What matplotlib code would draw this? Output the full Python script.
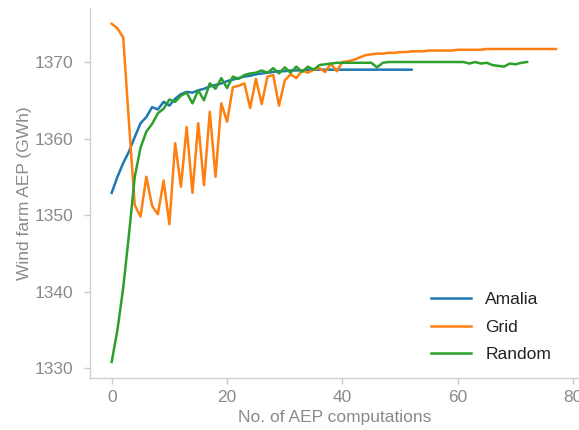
import matplotlib
matplotlib.use("Agg")
import matplotlib.pyplot as plt
import numpy as np

# Wind farm AEP (GWh) after each AEP computation, per layout optimisation strategy
amalia = [1352.9, 1355.0, 1356.8, 1358.3, 1360.2, 1362.0, 1362.8, 1364.1, 1363.8, 1364.8,
          1364.3, 1365.2, 1365.8, 1366.1, 1366.0, 1366.3, 1366.5, 1366.8, 1367.0, 1367.2,
          1367.5, 1367.7, 1367.9, 1368.1, 1368.2, 1368.4, 1368.5, 1368.6, 1368.7, 1368.8,
          1368.8, 1368.9, 1368.9, 1368.9, 1369.0, 1369.0, 1369.0, 1369.0, 1369.0, 1369.0,
          1369.0, 1369.0, 1369.0, 1369.0, 1369.0, 1369.0, 1369.0, 1369.0, 1369.0, 1369.0,
          1369.0, 1369.0, 1369.0]

grid = [1375.0, 1374.4, 1373.2, 1362.0, 1351.3, 1349.8, 1355.0, 1351.2, 1350.1, 1354.5,
        1348.8, 1359.4, 1353.7, 1361.5, 1352.9, 1362.0, 1353.9, 1363.5, 1355.0, 1364.6,
        1362.2, 1366.7, 1366.9, 1367.2, 1364.0, 1367.8, 1364.5, 1368.1, 1368.3, 1364.3,
        1367.6, 1368.4, 1367.9, 1368.9, 1368.6, 1369.0, 1369.2, 1368.7, 1369.8, 1368.8,
        1370.0, 1370.1, 1370.3, 1370.6, 1370.9, 1371.0, 1371.1, 1371.1, 1371.2, 1371.2,
        1371.3, 1371.3, 1371.4, 1371.4, 1371.4, 1371.5, 1371.5, 1371.5, 1371.5, 1371.5,
        1371.6, 1371.6, 1371.6, 1371.6, 1371.6, 1371.7, 1371.7, 1371.7, 1371.7, 1371.7,
        1371.7, 1371.7, 1371.7, 1371.7, 1371.7, 1371.7, 1371.7, 1371.7]

random_ = [1330.8, 1335.0, 1340.5, 1347.5, 1355.0, 1358.8, 1360.9, 1361.9, 1363.3, 1363.9,
           1365.1, 1364.8, 1365.6, 1366.0, 1364.6, 1366.3, 1365.0, 1367.2, 1366.5, 1367.9,
           1366.6, 1368.1, 1367.8, 1368.3, 1368.5, 1368.6, 1368.9, 1368.6, 1369.2, 1368.5,
           1369.3, 1368.6, 1369.4, 1368.7, 1369.4, 1369.0, 1369.6, 1369.7, 1369.8, 1369.9,
           1369.9, 1369.9, 1369.9, 1369.9, 1369.9, 1369.9, 1369.3, 1369.9, 1370.0, 1370.0,
           1370.0, 1370.0, 1370.0, 1370.0, 1370.0, 1370.0, 1370.0, 1370.0, 1370.0, 1370.0,
           1370.0, 1370.0, 1369.8, 1370.0, 1369.8, 1369.9, 1369.6, 1369.5, 1369.4, 1369.8,
           1369.7, 1369.9, 1370.0]

series_names = ["Amalia", "Grid", "Random"]
series_values = [amalia, grid, random_]
series_colors = ["#1f77b4", "#ff7f0e", "#2ca02c"]

x_ticks = [0, 20, 40, 60, 80]
y_ticks = [1330, 1340, 1350, 1360, 1370]

plt.rcParams["font.family"] = ["Liberation Sans", "DejaVu Sans"]

fig = plt.figure(figsize=(5.79, 4.30), dpi=100)
ax = fig.add_axes([90 / 579, 1 - 378 / 430, 1 - 90 / 579, (378 - 8) / 430])

for name, vals, col in zip(series_names, series_values, series_colors):
    ax.plot(np.arange(len(vals)), vals, color=col, lw=1.8, label=name)

ax.set_xlim(-3.76, 81.0)
ax.set_ylim(1328.7, 1377.06)
ax.set_xticks(x_ticks)
ax.set_yticks(y_ticks)

grey = "#8a8a8a"
for side in ["top", "right"]:
    ax.spines[side].set_visible(False)
for side in ["left", "bottom"]:
    ax.spines[side].set_color("#d0d0d0")
    ax.spines[side].set_linewidth(1.0)

ax.tick_params(axis="both", colors="#c8c8c8", labelcolor=grey, labelsize=12.5,
               length=4, width=1.0)
ax.tick_params(axis="y", pad=8)
ax.tick_params(axis="x", pad=5)

ax.set_xlabel("No. of AEP computations", color=grey, fontsize=12.5, labelpad=3)
ax.set_ylabel("Wind farm AEP (GWh)", color=grey, fontsize=12.5, labelpad=2)

leg = ax.legend(loc="lower right", frameon=False, fontsize=12.5,
                bbox_to_anchor=(0.975, 0.0), handlelength=2.3, labelspacing=0.72)
for t in leg.get_texts():
    t.set_color("#222222")

fig.savefig("out.png", dpi=100)
